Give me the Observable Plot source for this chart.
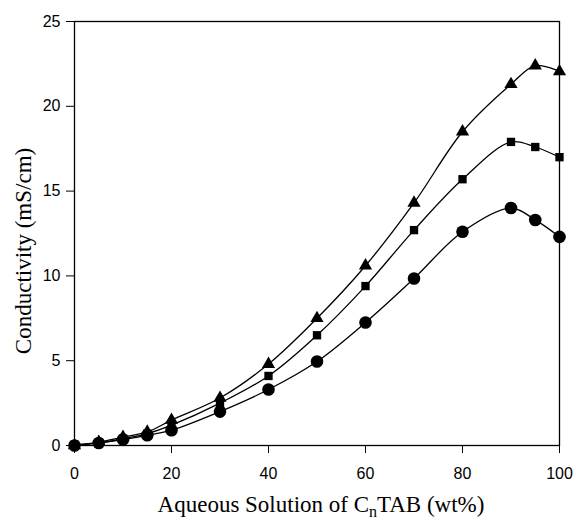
<!DOCTYPE html>
<html>
<head>
<meta charset="utf-8">
<script src="https://cdn.jsdelivr.net/npm/d3@7"></script>
<script src="https://cdn.jsdelivr.net/npm/@observablehq/plot@0.6"></script>
<style>
  html, body { margin: 0; padding: 0; background: #fff; }
</style>
</head>
<body>
<div id="chart"></div>
<script>
const concentration = [0, 5, 10, 15, 20, 30, 40, 50, 60, 70, 80, 90, 95, 100];
const triangleSeries = [0, 0.2, 0.5, 0.8, 1.5, 2.8, 4.8, 7.5, 10.6, 14.3, 18.5, 21.3, 22.4, 22.05];
const squareSeries = [0.05, 0.15, 0.4, 0.7, 1.2, 2.5, 4.1, 6.5, 9.4, 12.7, 15.7, 17.9, 17.6, 17.0];
const circleSeries = [0, 0.15, 0.35, 0.6, 0.9, 2.0, 3.3, 4.95, 7.25, 9.85, 12.6, 14.0, 13.3, 12.3];
const xTicks = [0, 20, 40, 60, 80, 100];
const yTicks = [0, 5, 10, 15, 20, 25];
const yTitle = "Conductivity (mS/cm)";
const xTitleParts = ["Aqueous Solution of C", "n", "TAB (wt%)"];

const rows = (vals, s) => concentration.map((x, i) => ({x, y: vals[i], s}));
const tri = rows(triangleSeries, "triangle");
const sq = rows(squareSeries, "square");
const ci = rows(circleSeries, "circle");

const width = 576, height = 520;
const chart = Plot.plot({
  width, height,
  marginLeft: 74, marginRight: 17, marginTop: 21, marginBottom: 75,
  style: {fontFamily: "'Liberation Sans', Arial, sans-serif", fontSize: "16px", color: "black", background: "white"},
  x: {domain: [0, 100]},
  y: {domain: [0, 25]},
  marks: [
    Plot.frame({stroke: "black", strokeWidth: 1.3}),
    Plot.axisX({ticks: xTicks, tickSize: 8, tickPadding: 14, label: null, tickFormat: d => String(d)}),
    Plot.axisY({ticks: yTicks, tickSize: 8, tickPadding: 6, label: null, tickFormat: d => String(d)}),
    Plot.line(tri, {x: "x", y: "y", curve: "catmull-rom", stroke: "black", strokeWidth: 1.3}),
    Plot.line(sq, {x: "x", y: "y", curve: "catmull-rom", stroke: "black", strokeWidth: 1.3}),
    Plot.line(ci, {x: "x", y: "y", curve: "catmull-rom", stroke: "black", strokeWidth: 1.3}),
    Plot.dot(tri, {x: "x", y: "y", symbol: "triangle", r: 4.9, fill: "black", stroke: "none"}),
    Plot.dot(sq, {x: "x", y: "y", symbol: "square", r: 4.7, fill: "black", stroke: "none"}),
    Plot.dot(ci, {x: "x", y: "y", symbol: "circle", r: 6.3, fill: "black", stroke: "none"})
  ]
});

const svg = d3.select(chart);
svg.append("text")
  .attr("transform", "translate(31,251) rotate(-90)")
  .attr("text-anchor", "middle")
  .attr("font-family", "'Liberation Serif', 'Times New Roman', serif")
  .attr("font-size", 23)
  .attr("fill", "black")
  .text(yTitle);
const xt = svg.append("text")
  .attr("x", 321).attr("y", 512)
  .attr("text-anchor", "middle")
  .attr("font-family", "'Liberation Serif', 'Times New Roman', serif")
  .attr("font-size", 23)
  .attr("fill", "black");
xt.append("tspan").text(xTitleParts[0]);
xt.append("tspan").attr("font-size", 16).attr("dy", 5).text(xTitleParts[1]);
xt.append("tspan").attr("dy", -5).text(xTitleParts[2]);

document.getElementById("chart").appendChild(chart);
</script>
</body>
</html>
